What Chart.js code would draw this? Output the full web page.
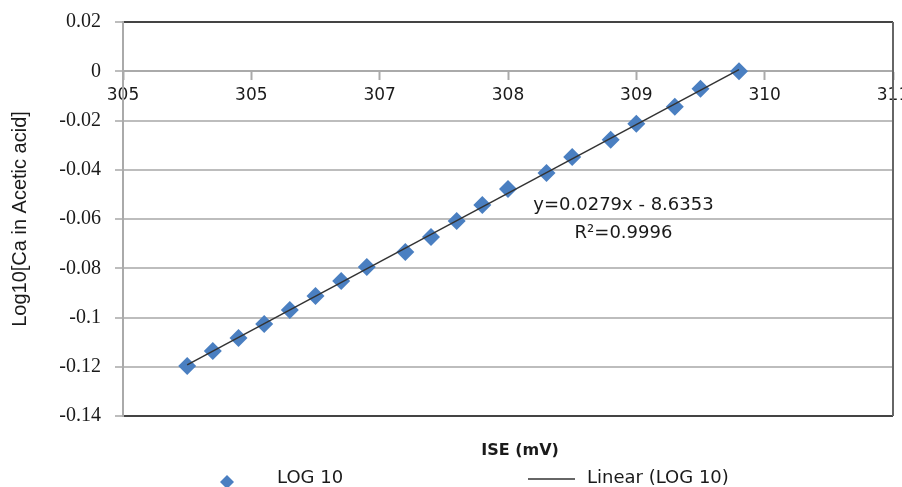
<!DOCTYPE html>
<html>
<head>
<meta charset="utf-8">
<script src="https://cdn.jsdelivr.net/npm/chart.js@4/dist/chart.umd.min.js"></script>
<style>
  html, body { margin: 0; padding: 0; background: #fff; }
  #wrap { width: 902px; height: 487px; }
</style>
</head>
<body>
<div id="wrap"><canvas id="chart"></canvas></div>
<script>
// ISE reading (mV) against log10 of Ca concentration
const iseValues = [305.5, 305.7, 305.9, 306.1, 306.3, 306.5, 306.7, 306.9, 307.2, 307.4,
                   307.6, 307.8, 308.0, 308.3, 308.5, 308.8, 309.0, 309.3, 309.5, 309.8];
const logValues = [-0.1197, -0.1136, -0.1083, -0.1026, -0.0970, -0.0913, -0.0852, -0.0795, -0.0734, -0.0673,
                   -0.0608, -0.0543, -0.0478, -0.0413, -0.0348, -0.0278, -0.0213, -0.0144, -0.0071, 0.0];
// tick labels as printed on the original (second one really reads 305)
const xTickLabels = ["305", "305", "307", "308", "309", "310", "311"];
const seriesName = "LOG 10";
const trendName = "Linear (LOG 10)";
const equationText = "y=0.0279x - 8.6353";
const r2Text = "R\u00B2=0.9996";

const points = iseValues.map((x, i) => ({ x: x, y: logValues[i] }));

// least squares fit for the trend line
const n = iseValues.length;
const mx = iseValues.reduce((a, b) => a + b, 0) / n;
const my = logValues.reduce((a, b) => a + b, 0) / n;
let sxy = 0, sxx = 0;
for (let i = 0; i < n; i++) {
  sxy += (iseValues[i] - mx) * (logValues[i] - my);
  sxx += (iseValues[i] - mx) * (iseValues[i] - mx);
}
const slope = sxy / sxx;
const icpt = my - slope * mx;
const xFirst = Math.min(...iseValues), xLast = Math.max(...iseValues);
const trend = [
  { x: xFirst, y: slope * xFirst + icpt },
  { x: xLast, y: slope * xLast + icpt }
];

const blue = "#4a7fc1";
const txt = "#1a1a1a";

const extras = {
  id: "extras",
  afterDatasetsDraw(chart) {
    const ctx = chart.ctx;
    const xs = chart.scales.x, ys = chart.scales.y;
    ctx.save();
    // equation box
    const ex = xs.getPixelForValue(308.9);
    const ey = ys.getPixelForValue(-0.0545);
    ctx.fillStyle = "#fff";
    ctx.fillRect(ex - 107, ey - 11, 213, 23);
    ctx.fillStyle = txt;
    ctx.font = "18px 'DejaVu Sans'";
    ctx.textAlign = "center";
    ctx.textBaseline = "middle";
    ctx.fillText(equationText, ex, ey);
    ctx.fillText(r2Text, ex, ey + 28);
    ctx.restore();
  },
  afterDraw(chart) {
    const ctx = chart.ctx;
    const area = chart.chartArea;
    ctx.save();
    // right border
    ctx.strokeStyle = "#666";
    ctx.lineWidth = 2;
    ctx.beginPath();
    ctx.moveTo(area.right, area.top);
    ctx.lineTo(area.right, area.bottom);
    ctx.stroke();
    // x axis title
    ctx.fillStyle = txt;
    ctx.textAlign = "center";
    ctx.textBaseline = "middle";
    ctx.font = "bold 16px 'DejaVu Sans'";
    ctx.fillText("ISE (mV)", 520, 451);
    // legend
    ctx.font = "18px 'DejaVu Sans'";
    ctx.textAlign = "left";
    ctx.fillStyle = blue;
    ctx.beginPath();
    ctx.moveTo(227, 475);
    ctx.lineTo(234, 482);
    ctx.lineTo(227, 489);
    ctx.lineTo(220, 482);
    ctx.closePath();
    ctx.fill();
    ctx.fillStyle = txt;
    ctx.fillText(seriesName, 277, 478);
    ctx.strokeStyle = "#333";
    ctx.lineWidth = 1.5;
    ctx.beginPath();
    ctx.moveTo(528, 479);
    ctx.lineTo(575, 479);
    ctx.stroke();
    ctx.fillText(trendName, 587, 478);
    ctx.restore();
  }
};

new Chart("chart", {
  type: "scatter",
  data: {
    datasets: [
      {
        label: trendName,
        type: "line",
        data: trend,
        borderColor: "#333",
        borderWidth: 1.5,
        pointRadius: 0,
        fill: false,
        order: 0
      },
      {
        label: seriesName,
        data: points,
        pointStyle: "rectRot",
        pointRadius: 9,
        backgroundColor: blue,
        borderColor: blue,
        borderWidth: 0,
        order: 1
      }
    ]
  },
  options: {
    responsive: true,
    maintainAspectRatio: false,
    animation: false,
    layout: { padding: { top: 22, right: 5, bottom: 71, left: 0 } },
    plugins: {
      legend: { display: false },
      tooltip: { enabled: false }
    },
    scales: {
      x: {
        type: "linear",
        position: { y: 0 },
        min: 305,
        max: 311,
        afterFit: (s) => { s.paddingLeft = 0; s.paddingRight = 0; },
        ticks: {
          stepSize: 1,
          padding: 6,
          color: txt,
          font: { family: "'DejaVu Sans'", size: 17 },
          callback: (v, i) => xTickLabels[i]
        },
        grid: {
          drawOnChartArea: false,
          tickLength: 8,
          tickColor: "#aaa",
          tickWidth: 2
        },
        border: { color: "#aaa", width: 2 }
      },
      y: {
        min: -0.14,
        max: 0.02,
        afterFit: (s) => { s.width = 123; s.paddingTop = 0; s.paddingBottom = 0; },
        ticks: {
          stepSize: 0.02,
          padding: 14,
          color: txt,
          font: { family: "'Liberation Serif'", size: 20 },
          callback: (v) => String(Math.round(v * 100) / 100)
        },
        grid: {
          color: (c) => (c.tick && (c.tick.value > 0.019 || c.tick.value < -0.139)) ? "#444" : "#bdbdbd",
          lineWidth: 2,
          tickLength: 8,
          tickColor: "#bdbdbd"
        },
        border: { color: "#aaa", width: 2 },
        title: {
          display: true,
          text: "Log10[Ca in Acetic acid]",
          color: txt,
          font: { family: "'Liberation Sans'", size: 20 },
          padding: { top: 8, bottom: 0 }
        }
      }
    }
  },
  plugins: [extras]
});
</script>
</body>
</html>
